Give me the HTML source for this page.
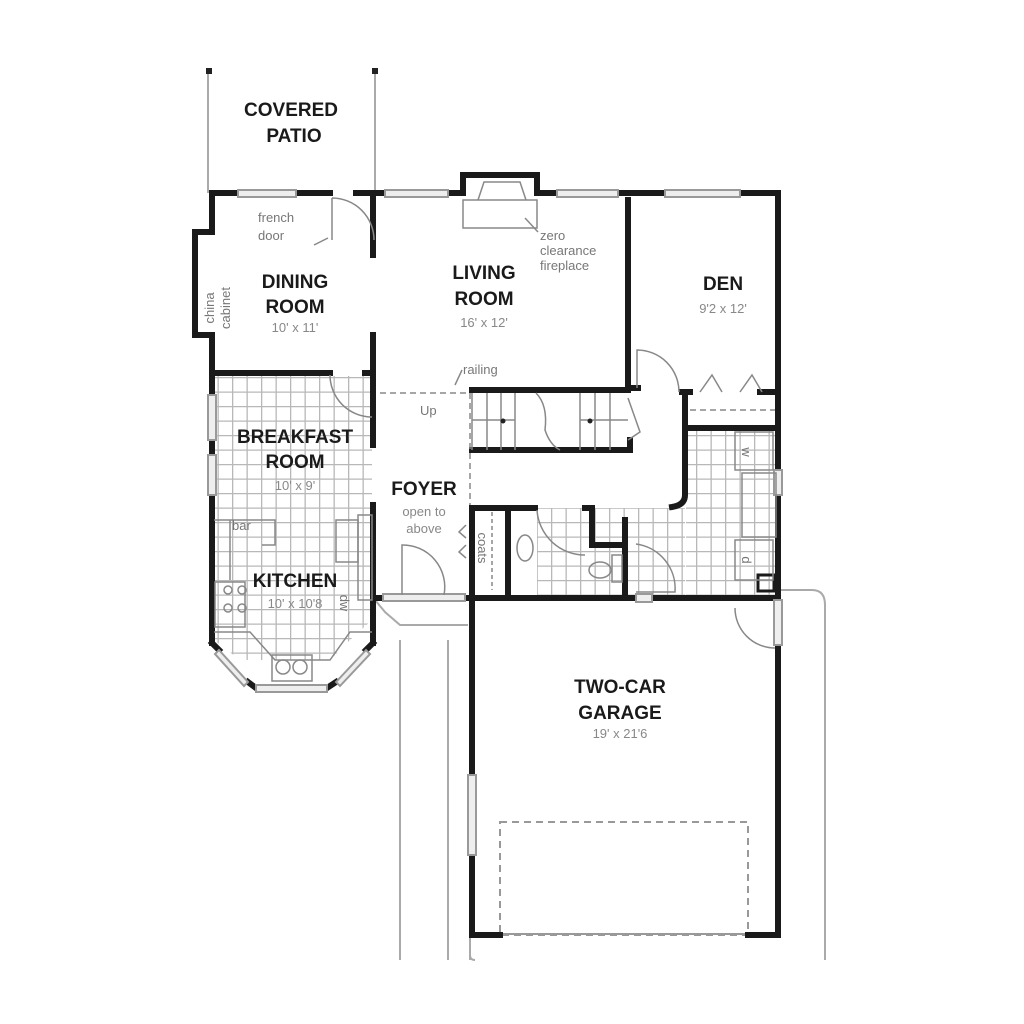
<!DOCTYPE html>
<html><head><meta charset="utf-8"><style>
html,body{margin:0;padding:0;background:#fff}
svg{display:block}
text{font-family:"Liberation Sans",Arial,sans-serif}
.t{font-weight:bold;font-size:19px;fill:#1a1a1a;text-anchor:middle}
.d{font-size:13px;fill:#888;text-anchor:middle}
.s{font-size:13px;fill:#777}
</style></head><body>
<svg width="1024" height="1024" viewBox="0 0 1024 1024" xmlns="http://www.w3.org/2000/svg">
<defs>
<pattern id="tile" width="14.5" height="14.5" patternUnits="userSpaceOnUse">
<path d="M0 0.5H14.5M0.5 0V14.5" stroke="#b8b8b8" stroke-width="1.6" fill="none"/>
</pattern>
</defs>
<rect width="1024" height="1024" fill="#fff"/>

<!-- tiles -->
<rect x="214" y="376" width="158" height="160" fill="url(#tile)"/>
<polygon points="214,536 372,536 372,620 350,640 330,660 240,660 214,640" fill="url(#tile)"/>
<rect x="537" y="508" width="148" height="88" fill="url(#tile)"/>
<rect x="686" y="428" width="90" height="168" fill="url(#tile)"/>

<!-- patio -->
<g stroke="#aaa" stroke-width="2" fill="none">
<line x1="208" y1="70" x2="208" y2="193"/><line x1="375" y1="70" x2="375" y2="193"/>
</g>
<rect x="206" y="68" width="6" height="6" fill="#222"/><rect x="372" y="68" width="6" height="6" fill="#222"/>

<!-- driveway / walks -->
<g stroke="#aaa" stroke-width="2" fill="none">
<path d="M375 600 L385 612 L400 625 L468 625"/>
<line x1="400" y1="640" x2="400" y2="960"/><line x1="448" y1="640" x2="448" y2="960"/>
<line x1="470" y1="600" x2="470" y2="960"/>
<path d="M780 590 L812 590 Q825 590 825 605 L825 960"/>
<line x1="778" y1="770" x2="780" y2="770"/>
<path d="M470 940 L470 955 Q470 960 475 960"/>
</g>
<rect x="500" y="822" width="248" height="113" fill="none" stroke="#999" stroke-width="2" stroke-dasharray="7,5"/>
<line x1="500" y1="934" x2="748" y2="934" stroke="#999" stroke-width="2"/>

<!-- thick walls -->
<g stroke="#1a1a1a" stroke-width="6" fill="none" stroke-linecap="square">
<!-- top -->
<path d="M212 193 L238 193"/><path d="M296 193 L330 193"/><path d="M356 193 L385 193"/>
<path d="M448 193 L463 193"/><path d="M537 193 L557 193"/><path d="M618 193 L665 193"/><path d="M740 193 L778 193"/>
<path d="M463 193 L463 175 L537 175 L537 193"/>
<!-- dining left -->
<path d="M212 193 L212 232 L195 232 L195 335 L212 335 L212 395"/>
<path d="M212 440 L212 455"/><path d="M212 495 L212 643"/>
<!-- dining/living -->
<path d="M373 193 L373 255"/><path d="M373 335 L373 445"/>
<path d="M373 505 L373 643"/>
<path d="M214 373 L330 373"/><path d="M365 373 L373 373"/>
<!-- den -->
<path d="M628 200 L628 388"/><path d="M778 193 L778 470"/><path d="M778 495 L778 598"/>
<path d="M628 388 L638 388"/><path d="M682 392 L690 392"/><path d="M760 392 L778 392"/>
<!-- hall -->
<path d="M685 395 L685 495 Q685 505 672 507"/>
<path d="M687 428 L775 428"/>
<!-- stairs -->
<path d="M472 390 L628 390"/><path d="M472 450 L630 450 L630 440"/>
<!-- coats / bath -->
<path d="M472 512 L472 598"/><path d="M472 508 L535 508"/><path d="M508 512 L508 595"/>
<path d="M585 508 L592 508 L592 545 L625 545 L625 520"/><path d="M625 545 L625 595"/>
<!-- garage -->
<path d="M375 598 L383 598"/><path d="M465 598 L636 598"/><path d="M652 598 L778 598"/>
<path d="M472 598 L472 775"/><path d="M472 855 L472 935 L500 935"/>
<path d="M748 935 L778 935 L778 645"/>
<rect x="758" y="575" width="16" height="16" stroke-width="3"/>
<!-- bay -->
<path d="M212 643 L219 650"/><path d="M248 682 L256 688"/><path d="M327 688 L336 682"/><path d="M366 650 L373 643"/>
</g>

<!-- windows (light) -->
<g stroke="#999" stroke-width="2" fill="#eee">
<rect x="238" y="190" width="58" height="7"/><rect x="385" y="190" width="63" height="7"/>
<rect x="557" y="190" width="61" height="7"/><rect x="665" y="190" width="75" height="7"/>
<rect x="208" y="395" width="8" height="45"/><rect x="208" y="455" width="8" height="40"/>
<rect x="774" y="470" width="8" height="25"/><rect x="468" y="775" width="8" height="80"/>
<rect x="774" y="600" width="8" height="45"/>
<polygon points="219,650 248,682 244,686 215,654"/>
<polygon points="336,682 366,650 370,654 340,686"/>
<rect x="256" y="685" width="71" height="7"/>
<rect x="383" y="594" width="82" height="7"/>
<rect x="636" y="594" width="16" height="8"/>
</g>

<!-- thin detail lines -->
<g stroke="#888" stroke-width="1.5" fill="none">
<path d="M332 198 L332 240 M332 198 A42 42 0 0 1 374 240"/>
<rect x="463" y="200" width="74" height="28"/>
<path d="M478 200 L484 182 L520 182 L526 200"/>
<path d="M330 375 A42 42 0 0 0 372 417"/>
<path d="M637 388 L637 350 A42 42 0 0 1 679 392"/>
<path d="M700 392 L712 375 L722 392 M740 392 L752 375 L762 392"/>
<path d="M690 410 L775 410" stroke-dasharray="6,4"/>
<path d="M380 393 L470 393 L470 505" stroke-dasharray="6,4"/>
<line x1="472" y1="393" x2="472" y2="450"/>
<path d="M487 393 V450 M501 393 V450 M515 393 V450 M580 393 V450 M595 393 V450 M610 393 V450"/>
<path d="M472 420 H515 M580 420 H628"/>
<path d="M536 393 Q548 405 545 430 Q550 445 560 450"/>
<path d="M628 398 L640 432 L628 440"/>
<path d="M402 595 L402 545 A42 42 0 0 1 444 595"/>
<path d="M466 525 L459 532 L466 538 M466 545 L459 552 L466 558"/>
<path d="M492 512 L492 590" stroke-dasharray="4,3"/>
<ellipse cx="525" cy="548" rx="8" ry="13"/>
<path d="M537 510 A48 48 0 0 0 585 555"/>
<ellipse cx="600" cy="570" rx="11" ry="8"/><rect x="612" y="555" width="10" height="27"/>
<path d="M636 544 A45 45 0 0 1 675 592 L636 592"/>
<path d="M735 608 A40 40 0 0 0 775 648"/>
<rect x="735" y="432" width="38" height="38"/><rect x="735" y="540" width="38" height="40"/>
<rect x="742" y="473" width="34" height="64"/>
<path d="M214 520 H275 V545 H262" /><path d="M230 520 V580"/>
<rect x="336" y="520" width="22" height="42"/><rect x="358" y="515" width="14" height="85"/>
<rect x="215" y="582" width="30" height="45"/>
<circle cx="228" cy="590" r="4"/><circle cx="242" cy="590" r="4"/><circle cx="228" cy="608" r="4"/><circle cx="242" cy="608" r="4"/>
<rect x="272" y="655" width="40" height="26"/><circle cx="283" cy="667" r="7"/><circle cx="300" cy="667" r="7"/>
<path d="M214 632 L250 632 L275 660 L330 660 L350 632 L372 632"/>
<path d="M328 238 L314 245"/><path d="M525 218 L538 232"/><path d="M455 385 L462 370"/>
</g>
<circle cx="503" cy="421" r="2.5" fill="#222"/><circle cx="590" cy="421" r="2.5" fill="#222"/>

<!-- labels -->
<text class="t" x="291" y="116">COVERED</text>
<text class="t" x="294" y="142">PATIO</text>
<text class="t" x="295" y="288">DINING</text>
<text class="t" x="295" y="313">ROOM</text>
<text class="d" x="295" y="332">10' x 11'</text>
<text class="t" x="484" y="279">LIVING</text>
<text class="t" x="484" y="305">ROOM</text>
<text class="d" x="484" y="327">16' x 12'</text>
<text class="t" x="723" y="290">DEN</text>
<text class="d" x="723" y="313">9'2 x 12'</text>
<text class="t" x="295" y="443">BREAKFAST</text>
<text class="t" x="295" y="468">ROOM</text>
<text class="d" x="295" y="490">10' x 9'</text>
<text class="t" x="424" y="495">FOYER</text>
<text class="d" x="424" y="516">open to</text>
<text class="d" x="424" y="533">above</text>
<text class="t" x="295" y="587">KITCHEN</text>
<text class="d" x="295" y="608">10' x 10'8</text>
<text class="t" x="620" y="693">TWO-CAR</text>
<text class="t" x="620" y="719">GARAGE</text>
<text class="d" x="620" y="738">19' x 21'6</text>
<text class="s" x="258" y="222">french</text>
<text class="s" x="258" y="240">door</text>
<text class="s" x="540" y="240">zero</text>
<text class="s" x="540" y="255">clearance</text>
<text class="s" x="540" y="270">fireplace</text>
<text class="s" x="463" y="374">railing</text>
<text class="s" x="420" y="415" font-size="14">Up</text>
<text class="s" x="232" y="530" font-size="12">bar</text>
<text class="s" transform="translate(214,308) rotate(-90)" text-anchor="middle">china</text>
<text class="s" transform="translate(230,308) rotate(-90)" text-anchor="middle">cabinet</text>
<text class="s" transform="translate(478,548) rotate(90)" text-anchor="middle" font-size="12">coats</text>
<text class="s" transform="translate(340,603) rotate(90)" text-anchor="middle" font-size="11">dw</text>
<text class="s" transform="translate(742,452) rotate(90)" text-anchor="middle" font-size="11">w</text>
<text class="s" transform="translate(742,560) rotate(90)" text-anchor="middle" font-size="11">d</text>
</svg>
</body></html>
